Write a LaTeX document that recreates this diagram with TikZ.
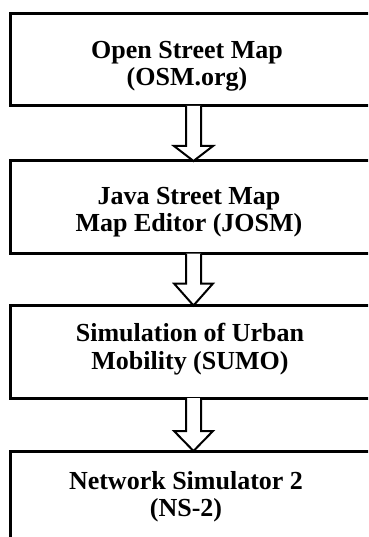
\documentclass[tikz,border=0pt]{standalone}
\usepackage{fontspec}
\setmainfont{Liberation Serif}
\usetikzlibrary{calc}
\tikzset{
  stagebox/.style={draw=black, line width=3pt, fill=white, rectangle, outer sep=0pt, inner sep=0pt,
    minimum width=369.5pt, minimum height=92.5pt, anchor=north west},
  stagetext/.style={align=center, anchor=base, inner sep=0pt,
    font=\bfseries\fontsize{26}{27.5}\selectfont},
  blockarrow/.style={draw=black, line width=2pt, fill=white, line join=miter},
}
\newcommand\hollowarrow[3]{%
  \draw[blockarrow] let \p1=(#1.south -| axis), \p2=(#2.north -| axis) in
    (\x1-7.5pt,\y1) -- (\x1-7.5pt,\y2+#3) -- (\x1-19.5pt,\y2+#3) -- (\x2,\y2)
    -- (\x1+19.5pt,\y2+#3) -- (\x1+7.5pt,\y2+#3) -- (\x1+7.5pt,\y1);}
\begin{document}
\begin{tikzpicture}[x=1pt,y=-1pt]
  \useasboundingbox (0,0) rectangle (368,537);
  \clip (0,0) rectangle (368,537);
  \coordinate (axis) at (193.5,0);
  \node[stagebox] (b1) at (10.5,13.5) {};
  \node[stagebox] (b2) at (10.5,161) {};
  \node[stagebox] (b3) at (10.5,305.5) {};
  \node[stagebox, minimum height=120pt] (b4) at (10.5,451) {};
  \node[stagetext] (t1) at (187,86) {Open Street Map\\(OSM.org)};
  \node[stagetext] (t2) at (189,231.5) {Java Street Map\\Map Editor (JOSM)};
  \node[stagetext] (t3) at (190,369.3) {Simulation of Urban\\Mobility (SUMO)};
  \node[stagetext] (t4) at (186,516.7) {Network Simulator 2\\(NS-2)};
  \hollowarrow{b1}{b2}{15pt}
  \hollowarrow{b2}{b3}{22pt}
  \hollowarrow{b3}{b4}{20pt}
\end{tikzpicture}
\end{document}
